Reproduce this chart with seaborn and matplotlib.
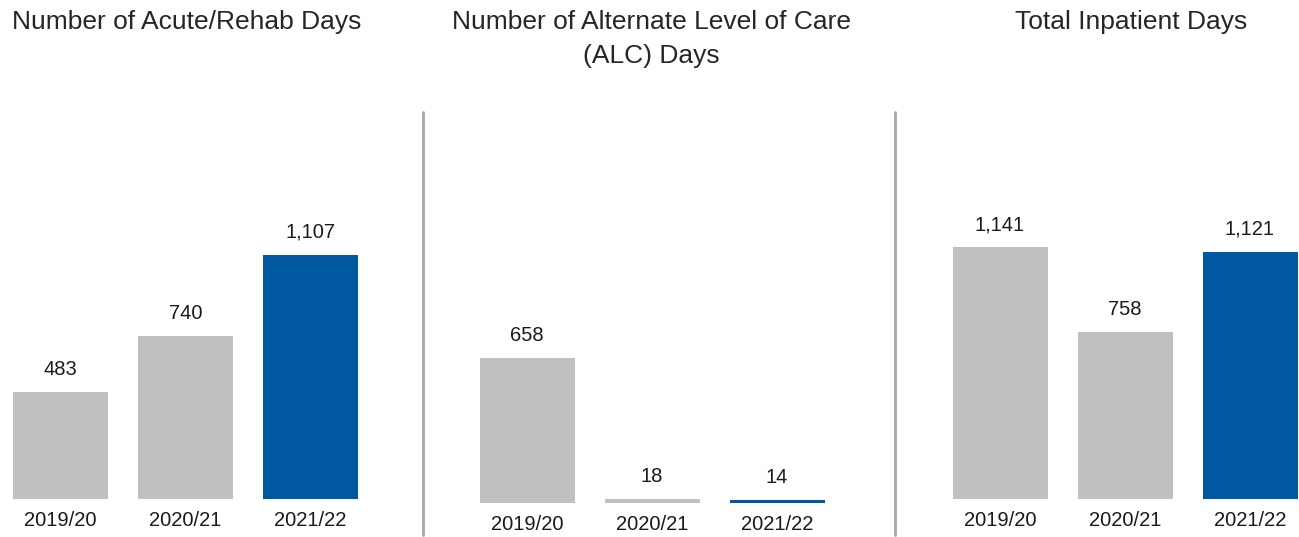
import matplotlib
matplotlib.use("Agg")
import matplotlib.pyplot as plt
import seaborn as sns
import pandas as pd

sns.set_theme(style="white")
plt.rcParams['font.family'] = ['Liberation Sans', 'DejaVu Sans']

years = ["2019/20", "2020/21", "2021/22"]
acute_rehab = [483, 740, 1107]
alc = [658, 18, 14]
total_inpatient = [1141, 758, 1121]
titles = ["Number of Acute/Rehab Days",
          "Number of Alternate Level of Care\n(ALC) Days",
          "Total Inpatient Days"]

GRAY = "#C0C0C0"
BLUE = "#0059A0"
palette = [GRAY, GRAY, BLUE]

W, H = 1299, 537
fig = plt.figure(figsize=(W / 100, H / 100), dpi=100)

PX_PER_UNIT = 0.2205
YMAX = 1300
ax_h = YMAX * PX_PER_UNIT

# (left px, xlim, baseline px from top)
panels = [
    (0, (-0.484, 2.516), 499),
    (464.5, (-0.5, 2.5), 503),
    (937.5, (-0.5, 2.396), 499),
]
series = [acute_rehab, alc, total_inpatient]

for (left, xl, base), vals in zip(panels, series):
    width_px = (xl[1] - xl[0]) * 125
    ax = fig.add_axes([left / W, (H - base) / H, width_px / W, ax_h / H])
    df = pd.DataFrame({"year": years, "value": vals})
    sns.barplot(data=df, x="year", y="value", hue="year", palette=palette,
                width=0.76, legend=False, ax=ax, saturation=1, linewidth=0)
    ax.set_xlim(*xl)
    ax.set_ylim(0, YMAX)
    for i, v in enumerate(vals):
        ax.annotate(f"{v:,}", (i, v), xytext=(0, 13), textcoords="offset pixels",
                    ha="center", va="bottom", fontsize=14.5, color="#1a1a1a")
    ax.set_xlabel("")
    ax.set_ylabel("")
    ax.set_yticks([])
    ax.tick_params(axis="x", length=0, pad=9, labelsize=14.5, labelcolor="#1a1a1a")
    for s in ax.spines.values():
        s.set_visible(False)

title_x = [187, 651, 1131]
for tx, t in zip(title_x, titles):
    fig.text(tx / W, 1 - 10 / H, t, ha="center", va="top", fontsize=19,
             color="#262626", linespacing=1.55)

for dx in [423, 895]:
    fig.add_artist(plt.Line2D([dx / W, dx / W], [1 - 112 / H, 1 - 535 / H],
                              color="#A6A6A6", linewidth=2))

fig.savefig("out.png", dpi=100)
